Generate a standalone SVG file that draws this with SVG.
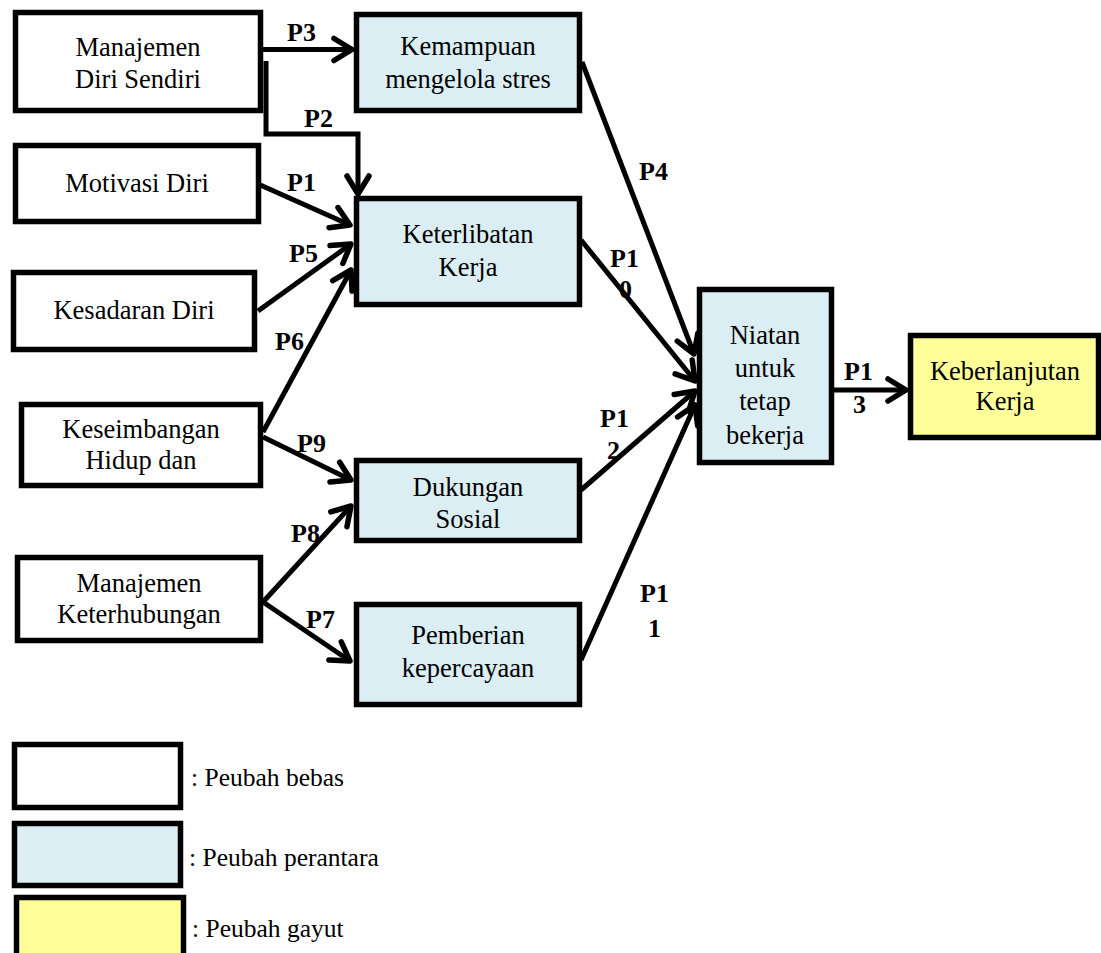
<svg xmlns="http://www.w3.org/2000/svg" width="1101" height="953" viewBox="0 0 1101 953" font-family="Liberation Serif, Times New Roman, Times, DejaVu Serif, serif">
<style>
.box{stroke:#000;stroke-width:5.5}
.ind{fill:#fff}
.med{fill:#DAEEF3}
.dep{fill:#FFFF99}
text{font-family:'Liberation Serif','Times New Roman',Times,'DejaVu Serif',serif}
.t{font-size:26.5px;fill:#000;text-anchor:middle}
.lg{font-size:25.5px;fill:#000}
.p{font-size:26px;font-weight:bold;fill:#000}
.c{fill:none;stroke:#000;stroke-width:5;marker-end:url(#ah)}
</style>
<defs>
<marker id="ah" viewBox="-24 -15 30 30" markerWidth="30" markerHeight="30" refX="0" refY="0" orient="auto" markerUnits="userSpaceOnUse">
<path d="M-18,-11 L0,0 L-18,11" fill="none" stroke="#000" stroke-width="5.5" stroke-linecap="round" stroke-linejoin="round"/>
</marker>
</defs>
<rect width="1101" height="953" fill="#fff"/>
<g id="connectors">
<path class="c" d="M263,49.5 L352,49.5"/>
<path class="c" d="M266,61 L266,134 L358,134 L358,194"/>
<path class="c" d="M258,184 L350,225"/>
<path class="c" d="M258,311 L351,244"/>
<path class="c" d="M263,432 L351,270"/>
<path class="c" d="M263,437 L351,480"/>
<path class="c" d="M263,602 L351,506"/>
<path class="c" d="M263,602 L350,661"/>
<path class="c" d="M582,62 L694,354"/>
<path class="c" d="M581,240 L695,381"/>
<path class="c" d="M581,490 L695,391"/>
<path class="c" d="M581,660 L695,405"/>
<path class="c" d="M833,390 L906,390"/>
<text class="p" x="287" y="41">P3</text>
<text class="p" x="304" y="127">P2</text>
<text class="p" x="287" y="191">P1</text>
<text class="p" x="289" y="262">P5</text>
<text class="p" x="275" y="350">P6</text>
<text class="p" x="297" y="452">P9</text>
<text class="p" x="291" y="542">P8</text>
<text class="p" x="306" y="628">P7</text>
<text class="p" x="639" y="180">P4</text>
<text class="p" x="610" y="267">P1</text>
<text class="p" x="619" y="298">0</text>
<text class="p" x="600" y="427">P1</text>
<text class="p" x="607" y="459">2</text>
<text class="p" x="640" y="602">P1</text>
<text class="p" x="648" y="637">1</text>
<text class="p" x="844" y="380">P1</text>
<text class="p" x="853" y="413">3</text>
</g>
<g id="n1"><rect class="box ind" x="15.5" y="12.5" width="245" height="98"/><text class="t" x="138" y="56">Manajemen</text><text class="t" x="138" y="88">Diri Sendiri</text></g>
<g id="n2"><rect class="box med" x="356.5" y="14.5" width="223" height="96"/><text class="t" x="468" y="55">Kemampuan</text><text class="t" x="468" y="88">mengelola stres</text></g>
<g id="n3"><rect class="box ind" x="15.5" y="145.5" width="243" height="76"/><text class="t" x="137" y="192">Motivasi Diri</text></g>
<g id="n4"><rect class="box med" x="356.5" y="198.5" width="223" height="106"/><text class="t" x="468" y="243">Keterlibatan</text><text class="t" x="468" y="276">Kerja</text></g>
<g id="n5"><rect class="box ind" x="13.5" y="272.5" width="241" height="77"/><text class="t" x="134" y="319">Kesadaran Diri</text></g>
<g id="n6"><rect class="box ind" x="21.5" y="404.5" width="239" height="81"/><text class="t" x="141" y="438">Keseimbangan</text><text class="t" x="141" y="469">Hidup dan</text></g>
<g id="n7"><rect class="box med" x="356.5" y="460.5" width="223" height="80"/><text class="t" x="468" y="496">Dukungan</text><text class="t" x="468" y="528">Sosial</text></g>
<g id="n8"><rect class="box ind" x="17.5" y="557.5" width="243" height="83"/><text class="t" x="139" y="592">Manajemen</text><text class="t" x="139" y="623">Keterhubungan</text></g>
<g id="n9"><rect class="box med" x="356.5" y="604.5" width="223" height="100"/><text class="t" x="468" y="644">Pemberian</text><text class="t" x="468" y="677">kepercayaan</text></g>
<g id="n10"><rect class="box med" x="699.5" y="289.5" width="132" height="173"/><text class="t" x="765" y="344">Niatan</text><text class="t" x="765" y="377">untuk</text><text class="t" x="765" y="410">tetap</text><text class="t" x="765" y="444">bekerja</text></g>
<g id="n11"><rect class="box dep" x="910.5" y="335.5" width="188" height="102"/><text class="t" x="1005" y="380">Keberlanjutan</text><text class="t" x="1005" y="410">Kerja</text></g>
<g id="legend">
<rect class="box ind" x="14.5" y="744.5" width="166" height="63"/>
<text class="lg" x="191" y="786">: Peubah bebas</text>
<rect class="box med" x="14.5" y="823.5" width="166" height="62"/>
<text class="lg" x="189" y="866">: Peubah perantara</text>
<rect class="box dep" x="16.5" y="897.5" width="167" height="70"/>
<text class="lg" x="192" y="937">: Peubah gayut</text>
</g>
</svg>
